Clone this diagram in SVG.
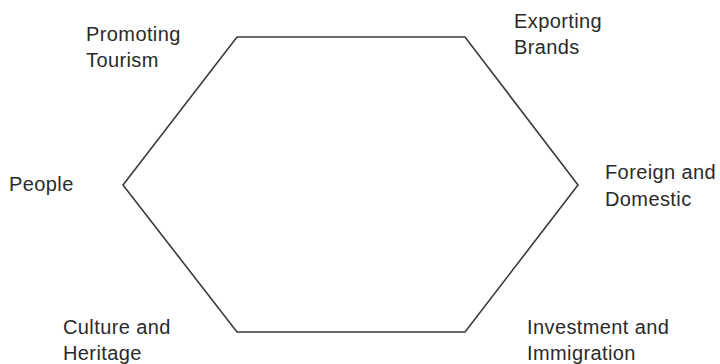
<svg xmlns="http://www.w3.org/2000/svg" width="720" height="364" viewBox="0 0 720 364">
<style>
.lbl{font-family:"Liberation Sans",Arial,sans-serif;font-size:20px;letter-spacing:0.4px;fill:#2a2a2a}
.edge{fill:none;stroke:#3a3a3a;stroke-width:1.6}
</style>
<rect width="720" height="364" fill="#fff"/>
<g id="connectors">
<polygon class="edge" points="237,37 465,37 578,185 465,332 237,332 123,185"/>
</g>
<g id="promoting-tourism"><text class="lbl" x="86" y="41">Promoting</text><text class="lbl" x="86" y="67">Tourism</text></g>
<g id="exporting-brands"><text class="lbl" x="514" y="28">Exporting</text><text class="lbl" x="514" y="54">Brands</text></g>
<g id="people"><text class="lbl" x="9" y="191">People</text></g>
<g id="foreign-domestic"><text class="lbl" x="605" y="179">Foreign and</text><text class="lbl" x="605" y="206">Domestic</text></g>
<g id="culture-heritage"><text class="lbl" x="63" y="334">Culture and</text><text class="lbl" x="63" y="360">Heritage</text></g>
<g id="investment-immigration"><text class="lbl" x="527" y="334">Investment and</text><text class="lbl" x="527" y="360">Immigration</text></g>
</svg>
